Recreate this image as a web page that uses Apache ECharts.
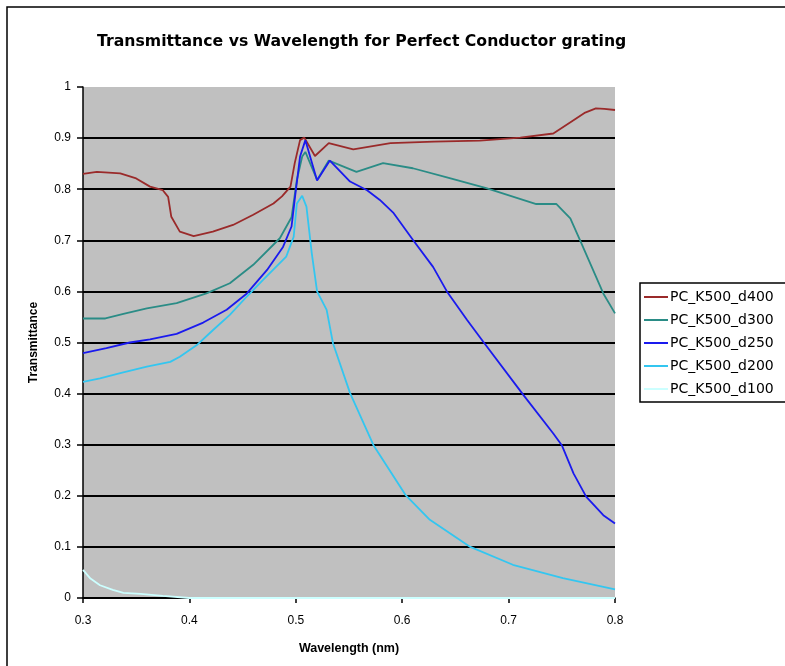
<!DOCTYPE html>
<html>
<head>
<meta charset="utf-8">
<script src="https://cdn.jsdelivr.net/npm/echarts@6/dist/echarts.min.js"></script>
<style>
  html, body { margin: 0; padding: 0; background: #fff; }
  #chart { width: 785px; height: 666px; }
</style>
</head>
<body>
<div id="chart"></div>
<script>
// Series names
const seriesNames = ['PC_K500_d400', 'PC_K500_d300', 'PC_K500_d250', 'PC_K500_d200', 'PC_K500_d100'];

// Wavelength (nm) and transmittance samples for each grating
const d400X = [0.300, 0.313, 0.335, 0.350, 0.363, 0.375, 0.380, 0.383, 0.391, 0.404, 0.422, 0.441, 0.460, 0.479, 0.487, 0.495, 0.499, 0.504, 0.508, 0.518, 0.531, 0.554, 0.589, 0.630, 0.673, 0.711, 0.742, 0.761, 0.772, 0.782, 0.790, 0.800];
const d400Y = [0.830, 0.834, 0.831, 0.821, 0.805, 0.798, 0.785, 0.746, 0.717, 0.708, 0.717, 0.730, 0.750, 0.772, 0.786, 0.805, 0.851, 0.896, 0.901, 0.865, 0.890, 0.878, 0.890, 0.893, 0.895, 0.901, 0.909, 0.935, 0.950, 0.958, 0.957, 0.955];

const d300X = [0.300, 0.321, 0.338, 0.360, 0.388, 0.416, 0.438, 0.460, 0.485, 0.496, 0.501, 0.506, 0.509, 0.520, 0.531, 0.557, 0.582, 0.610, 0.642, 0.679, 0.726, 0.745, 0.758, 0.767, 0.789, 0.800];
const d300Y = [0.547, 0.547, 0.556, 0.567, 0.577, 0.596, 0.616, 0.652, 0.704, 0.745, 0.818, 0.864, 0.873, 0.818, 0.856, 0.834, 0.851, 0.841, 0.823, 0.802, 0.771, 0.771, 0.743, 0.701, 0.596, 0.557];

const d250X = [0.300, 0.322, 0.344, 0.363, 0.388, 0.413, 0.435, 0.454, 0.473, 0.488, 0.496, 0.499, 0.504, 0.509, 0.520, 0.532, 0.551, 0.567, 0.579, 0.592, 0.610, 0.629, 0.642, 0.661, 0.676, 0.714, 0.742, 0.750, 0.761, 0.773, 0.777, 0.789, 0.800];
const d250Y = [0.479, 0.489, 0.500, 0.506, 0.517, 0.539, 0.564, 0.596, 0.642, 0.687, 0.727, 0.780, 0.864, 0.896, 0.817, 0.856, 0.815, 0.798, 0.779, 0.753, 0.701, 0.648, 0.600, 0.544, 0.502, 0.397, 0.322, 0.299, 0.244, 0.198, 0.189, 0.162, 0.146];

const d200X = [0.300, 0.316, 0.335, 0.360, 0.382, 0.391, 0.407, 0.422, 0.438, 0.454, 0.469, 0.491, 0.498, 0.501, 0.506, 0.510, 0.515, 0.520, 0.529, 0.535, 0.551, 0.573, 0.603, 0.626, 0.664, 0.704, 0.751, 0.800];
const d200Y = [0.423, 0.430, 0.440, 0.453, 0.462, 0.472, 0.495, 0.524, 0.554, 0.590, 0.622, 0.668, 0.707, 0.772, 0.787, 0.766, 0.675, 0.600, 0.564, 0.498, 0.401, 0.299, 0.202, 0.153, 0.100, 0.065, 0.039, 0.017];

const d100X = [0.300, 0.307, 0.316, 0.328, 0.338, 0.354, 0.375, 0.400, 0.500, 0.600, 0.700, 0.800];
const d100Y = [0.055, 0.038, 0.025, 0.016, 0.010, 0.008, 0.004, 0.000, 0.000, 0.000, 0.000, 0.000];

// Y tick values (0 .. 1 by 0.1)
const yTicks = [0, 0.1, 0.2, 0.3, 0.4, 0.5, 0.6, 0.7, 0.8, 0.9, 1];

const seriesColors = ['#9a2a2a', '#2a8c86', '#1a1aee', '#33c6f0', '#ccffff'];

function pairs(xs, ys) {
  return xs.map((x, i) => [x, ys[i]]);
}
const seriesData = [
  pairs(d400X, d400Y),
  pairs(d300X, d300Y),
  pairs(d250X, d250Y),
  pairs(d200X, d200Y),
  pairs(d100X, d100Y)
];

const FONT = '"Liberation Sans", Arial, sans-serif';
const WIDE = '"DejaVu Sans", "Liberation Sans", sans-serif';

// Gridlines in black except the one at the top edge
const splitColors = yTicks.map((v, i) => (i === yTicks.length - 1 ? 'rgba(0,0,0,0)' : '#000'));

const chart = echarts.init(document.getElementById('chart'), null, { renderer: 'canvas' });

chart.setOption({
  animation: false,
  backgroundColor: '#fff',
  textStyle: { fontFamily: FONT },
  title: {
    text: 'Transmittance vs Wavelength for Perfect Conductor grating',
    left: 92,
    top: 29,
    textStyle: { fontFamily: WIDE, fontSize: 15.7, fontWeight: 'bold', color: '#000' }
  },
  graphic: [
    {
      type: 'rect',
      shape: { x: 7, y: 7, width: 820, height: 700 },
      style: { fill: 'none', stroke: '#000', lineWidth: 1.5 },
      silent: true,
      z: -1
    }
  ],
  legend: {
    orient: 'vertical',
    left: 640,
    top: 283,
    padding: [7, 20, 6, 4],
    itemGap: 9,
    itemWidth: 24,
    itemHeight: 2,
    icon: 'rect',
    borderColor: '#000',
    borderWidth: 1.5,
    backgroundColor: '#fff',
    data: seriesNames,
    textStyle: { fontFamily: WIDE, fontSize: 14, color: '#000', lineHeight: 14, padding: [0, 0, 0, -3] }
  },
  grid: {
    left: 83,
    top: 87,
    width: 532,
    height: 511,
    show: true,
    backgroundColor: '#c0c0c0',
    borderWidth: 0
  },
  xAxis: {
    type: 'value',
    min: 0.3,
    max: 0.8,
    interval: 0.1,
    name: 'Wavelength (nm)',
    nameLocation: 'middle',
    nameGap: 44,
    nameTextStyle: { fontFamily: FONT, fontSize: 12.5, fontWeight: 'bold', color: '#000' },
    axisLine: { show: true, onZero: false, lineStyle: { color: '#000', width: 1.5 } },
    axisTick: { show: true, inside: false, length: 5, lineStyle: { color: '#000', width: 1.5 } },
    axisLabel: {
      margin: 17,
      fontFamily: FONT, fontSize: 12, color: '#000',
      formatter: v => v.toFixed(1)
    },
    splitLine: { show: false }
  },
  yAxis: {
    type: 'value',
    min: 0,
    max: 1,
    interval: 0.1,
    name: 'Transmittance',
    nameLocation: 'middle',
    nameRotate: 90,
    nameGap: 43,
    nameTextStyle: { fontFamily: FONT, fontSize: 12, fontWeight: 'bold', color: '#000' },
    axisLine: { show: true, lineStyle: { color: '#000', width: 1.5 } },
    axisTick: { show: true, inside: false, length: 6, lineStyle: { color: '#000', width: 1.5 } },
    axisLabel: {
      margin: 12,
      fontFamily: FONT, fontSize: 12, color: '#000',
      formatter: v => (v === 0 || v === 1 ? String(v) : v.toFixed(1))
    },
    splitLine: { show: true, lineStyle: { color: splitColors, width: 1.8 } }
  },
  series: seriesNames.map((name, i) => ({
    name: name,
    type: 'line',
    data: seriesData[i],
    showSymbol: false,
    symbol: 'none',
    smooth: false,
    color: seriesColors[i],
    lineStyle: { color: seriesColors[i], width: 1.8 },
    z: 3 + i
  }))
});
</script>
</body>
</html>
